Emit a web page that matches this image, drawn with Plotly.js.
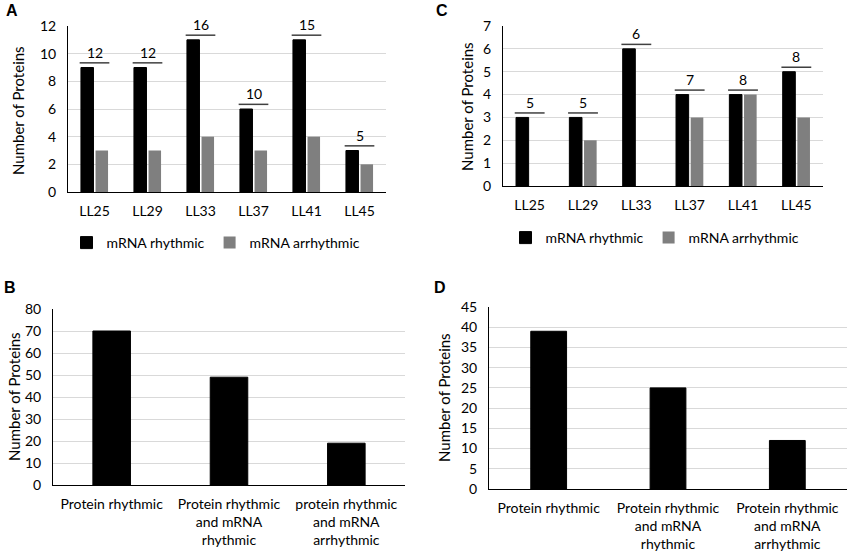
<!DOCTYPE html>
<html>
<head>
<meta charset="utf-8">
<script src="https://cdn.plot.ly/plotly-3.0.1.min.js"></script>
<style>
  html, body { margin: 0; padding: 0; background: #fff; }
  #chart { width: 851px; height: 554px; }
</style>
</head>
<body>
<div id="chart"></div>
<script>
// panel A / C: proteins per time point, split by mRNA behaviour
const timepoints = ['LL25', 'LL29', 'LL33', 'LL37', 'LL41', 'LL45'];
const aRhythmic = [9, 9, 11, 6, 11, 3];
const aArrhythmic = [3, 3, 4, 3, 4, 2];
const aTotals = [12, 12, 16, 10, 15, 5];
const cRhythmic = [3, 3, 6, 4, 4, 5];
const cArrhythmic = [0, 2, 0, 3, 4, 3];
const cTotals = [5, 5, 6, 7, 8, 8];

// panel B / D: overall counts
const bCategories = ['Protein rhythmic', 'Protein rhythmic<br>and mRNA<br>rhythmic', 'protein rhythmic<br>and mRNA<br>arrhythmic'];
const bCounts = [70, 49, 19];
const dCategories = ['Protein rhythmic', 'Protein rhythmic<br>and mRNA<br>rhythmic', 'Protein rhythmic<br>and mRNA<br>arrhythmic'];
const dCounts = [39, 25, 12];

const FONT = 'Lato, "Open Sans", sans-serif';
const W = 851, H = 554;
const px = (x) => x / W;
const py = (y) => 1 - y / H;

const black = { color: '#000', line: { color: '#000', width: 1 } };
const grey = { color: '#7f7f7f', line: { width: 0 } };

function axisY(range, dtick, top, bottom) {
    return {
        domain: [py(bottom), py(top)],
        range: range,
        dtick: dtick,
        showgrid: true,
        gridcolor: '#d9d9d9',
        gridwidth: 1,
        zeroline: false,
        showline: true,
        linecolor: '#000',
        linewidth: 1,
        ticks: '',
        ticklabelstandoff: 8,
        tickfont: { family: FONT, size: 14, color: '#000' },
        fixedrange: true
    };
}

function axisX(left, right, anchor) {
    return {
        domain: [px(left), px(right)],
        anchor: anchor,
        type: 'category',
        showgrid: false,
        zeroline: false,
        showline: true,
        linecolor: '#000',
        linewidth: 1,
        ticks: '',
        ticklabelstandoff: 6,
        tickfont: { family: FONT, size: 14, color: '#000' },
        fixedrange: true
    };
}

const traces = [
    { type: 'bar', x: timepoints, y: aRhythmic, name: 'mRNA rhythmic', marker: black, xaxis: 'x', yaxis: 'y', legend: 'legend' },
    { type: 'bar', x: timepoints, y: aArrhythmic, name: 'mRNA arrhythmic', marker: grey, xaxis: 'x', yaxis: 'y', legend: 'legend' },
    { type: 'bar', x: timepoints, y: cRhythmic, name: 'mRNA rhythmic', marker: black, xaxis: 'x2', yaxis: 'y2', legend: 'legend2' },
    { type: 'bar', x: timepoints, y: cArrhythmic, name: 'mRNA arrhythmic', marker: grey, xaxis: 'x2', yaxis: 'y2', legend: 'legend2' },
    { type: 'bar', x: bCategories, y: bCounts, width: 0.32, marker: black, xaxis: 'x3', yaxis: 'y3', showlegend: false },
    { type: 'bar', x: dCategories, y: dCounts, width: 0.3, marker: black, xaxis: 'x4', yaxis: 'y4', showlegend: false }
];

const shapes = [];
const annotations = [];

// total bracket above each pair of bars
function addTotals(totals, rhythmic, arrhythmic, xref, yref, range) {
    totals.forEach((t, i) => {
        const top = Math.max(rhythmic[i], arrhythmic[i]) + range * 0.028;
        shapes.push({
            type: 'line', xref: xref, yref: yref,
            x0: i - 0.28, x1: i + 0.28, y0: top, y1: top,
            line: { color: '#404040', width: 1.5 }
        });
        annotations.push({
            xref: xref, yref: yref, x: i, y: top,
            text: String(t), showarrow: false,
            yanchor: 'bottom', yshift: 0,
            font: { family: FONT, size: 14, color: '#000' }
        });
    });
}
addTotals(aTotals, aRhythmic, aArrhythmic, 'x', 'y', 12);
addTotals(cTotals, cRhythmic, cArrhythmic, 'x2', 'y2', 7);

// y titles
const yTitles = [[18, 111], [467, 107], [14, 397], [444, 398]];
yTitles.forEach(([x, y]) => {
    annotations.push({
        xref: 'paper', yref: 'paper', x: px(x), y: py(y),
        text: 'Number of Proteins', textangle: -90, showarrow: false,
        xanchor: 'center', yanchor: 'middle',
        font: { family: FONT, size: 15, color: '#000' }
    });
});

// panel letters
[['A', 12, 10], ['C', 442, 10], ['B', 10, 287], ['D', 440, 287]].forEach(([t, x, y]) => {
    annotations.push({
        xref: 'paper', yref: 'paper', x: px(x), y: py(y),
        text: '<b>' + t + '</b>', showarrow: false,
        xanchor: 'center', yanchor: 'middle',
        font: { family: 'Arial, "Liberation Sans", sans-serif', size: 16, color: '#000' }
    });
});

const legendStyle = (x, y) => ({
    orientation: 'h', x: px(x), y: py(y), xanchor: 'center', yanchor: 'middle',
    font: { family: FONT, size: 14, color: '#000' },
    itemwidth: 30, bgcolor: 'rgba(0,0,0,0)'
});

const layout = {
    width: W,
    height: H,
    margin: { l: 0, r: 0, t: 0, b: 0 },
    paper_bgcolor: '#fff',
    plot_bgcolor: '#fff',
    barmode: 'group',
    bargap: 0.45,
    bargroupgap: 0.14,
    xaxis: axisX(68, 386, 'y'),
    yaxis: axisY([0, 12], 2, 26, 192),
    xaxis2: axisX(503, 823, 'y2'),
    yaxis2: axisY([0, 7], 1, 26, 186),
    xaxis3: axisX(53, 405, 'y3'),
    yaxis3: axisY([0, 80], 10, 309, 485),
    xaxis4: axisX(489, 847, 'y4'),
    yaxis4: axisY([0, 45], 5, 307, 489),
    legend: legendStyle(216, 243),
    legend2: legendStyle(655, 238),
    shapes: shapes,
    annotations: annotations
};
layout.yaxis2.anchor = 'x2';
layout.yaxis3.anchor = 'x3';
layout.yaxis4.anchor = 'x4';

Plotly.newPlot('chart', traces, layout, { displayModeBar: false, staticPlot: true });
</script>
</body>
</html>
